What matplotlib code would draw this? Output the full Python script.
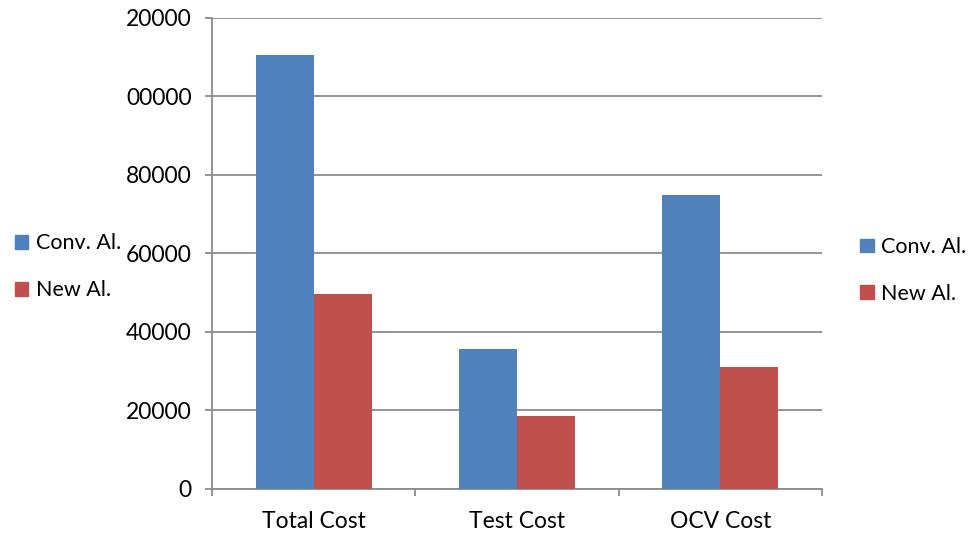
import matplotlib
matplotlib.use("Agg")
import matplotlib.pyplot as plt
from matplotlib.patches import Patch
import numpy as np

categories = ["Total Cost", "Test Cost", "OCV Cost"]
conv_al = [110500, 35700, 75000]
new_al = [49700, 18600, 31100]
series_names = ["Conv. Al.", "New Al."]
y_ticks = [0, 20000, 40000, 60000, 80000, 100000, 120000]
y_tick_labels = ["0", "20000", "40000", "60000", "80000", "00000", "20000"]

blue = "#4F81BD"
red = "#C0504D"
grid_c = "#8C8C8C"

plt.rcParams["font.family"] = ["Lato", "DejaVu Sans"]

fig = plt.figure(figsize=(9.8, 5.34), dpi=100)
ax = fig.add_axes([0.2163, 0.0843, 0.6225, 0.882])

x = np.arange(len(categories))
w = 0.285
ax.bar(x - w / 2, conv_al, width=w, color=blue, zorder=3)
ax.bar(x + w / 2, new_al, width=w, color=red, zorder=3)

ax.set_xlim(-0.5, len(categories) - 0.5)
ax.set_ylim(0, 120000)
ax.set_yticks(y_ticks)
ax.set_yticklabels(y_tick_labels)
ax.set_xticks(x)
ax.set_xticklabels(categories)
ax.set_xticks(np.arange(len(categories) + 1) - 0.5, minor=True)

ax.yaxis.grid(True, color=grid_c, linewidth=1.3, zorder=0)
for s in ["top", "right"]:
    ax.spines[s].set_visible(False)
for s in ["left", "bottom"]:
    ax.spines[s].set_color(grid_c)
    ax.spines[s].set_linewidth(1.3)

ax.tick_params(axis="y", length=5, color=grid_c, width=1.3, labelsize=16.5, pad=9.5)
ax.tick_params(axis="x", which="major", length=0, labelsize=16.5, pad=16)
ax.tick_params(axis="x", which="minor", length=5, color=grid_c, width=1.3)

handles = [Patch(color=blue), Patch(color=red)]
common = dict(frameon=False, fontsize=15.5, handlelength=0.62, handleheight=0.62,
              handletextpad=0.35, labelspacing=1.25, borderpad=0, borderaxespad=0)
fig.legend(handles, series_names, loc="upper left",
           bbox_to_anchor=(0.015, 0.563), **common)
fig.legend(handles, series_names, loc="upper left",
           bbox_to_anchor=(0.878, 0.556), **common)

fig.savefig("out.png", dpi=100)
